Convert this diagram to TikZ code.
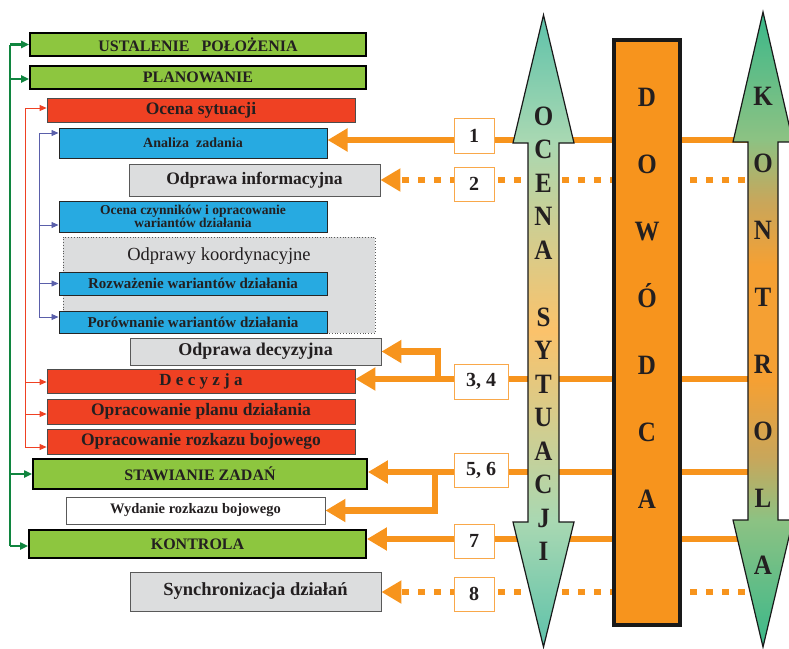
\documentclass[tikz,border=0pt]{standalone}
\usepackage{fontspec}
\setmainfont{Liberation Serif}
\usetikzlibrary{arrows.meta}
\definecolor{oorange}{HTML}{F7941D}
\definecolor{onum}{HTML}{F9A84A}
\definecolor{ogreen}{HTML}{8DC63F}
\definecolor{ored}{HTML}{EF4123}
\definecolor{oblue}{HTML}{27AAE1}
\definecolor{ogray}{HTML}{DCDDDE}
\definecolor{txt}{HTML}{231F20}
\definecolor{gline}{HTML}{10853F}
\definecolor{rline}{HTML}{EF4123}
\definecolor{bline}{HTML}{5A5FAA}
\definecolor{oca}{HTML}{5EC2AA}
\definecolor{ocb}{HTML}{A9D8B2}
\definecolor{occ}{HTML}{FBC26B}
\definecolor{ka}{HTML}{3BB88A}
\definecolor{kb}{HTML}{8CC283}
\definecolor{kc}{HTML}{C9A65A}
\definecolor{kd}{HTML}{F5A033}
\pgfdeclareverticalshading{ocenash}{100bp}{color(0bp)=(oca); color(25bp)=(oca); color(35bp)=(ocb); color(50bp)=(occ); color(65bp)=(ocb); color(75bp)=(oca); color(100bp)=(oca)}
\pgfdeclareverticalshading{kontrsh}{100bp}{color(0bp)=(ka); color(25bp)=(ka); color(35bp)=(kb); color(40bp)=(kc); color(46bp)=(kd); color(55bp)=(kd); color(60bp)=(kc); color(65bp)=(kb); color(75bp)=(ka); color(100bp)=(ka)}
\newcommand{\fs}[1]{\fontsize{#1}{#1}\selectfont}
\newcommand{\bigletter}[1]{\scalebox{1}[1.12]{#1}}
\begin{document}
\begin{tikzpicture}[x=1pt,y=-1pt,
  box/.style={inner sep=0pt, align=center, font=\bfseries, text=txt},
  gbox/.style={box, fill=ogreen, draw=black, line width=1.8pt},
  rbox/.style={box, fill=ored, draw=black!70, line width=0.8pt},
  bbox/.style={box, fill=oblue, draw=black!85, line width=1pt},
  gybox/.style={box, fill=ogray, draw=black!65, line width=0.9pt},
  numbox/.style={inner sep=0pt, fill=white, draw=onum, line width=0.9pt, text=txt, font=\fs{20}\bfseries},
  oline/.style={draw=oorange, line width=6.5pt},
  oarr/.style={oline, -{Triangle[length=20pt,width=22pt]}},
  odot/.style={oarr, dash pattern=on 7pt off 9pt},
  gconn/.style={draw=gline, line width=2.8pt},
  garr/.style={gconn, -{Triangle[length=8pt,width=7pt]}},
  rconn/.style={draw=rline, line width=0.8pt},
  rarr/.style={rconn, -{Triangle[length=7pt,width=6pt]}},
  bconn/.style={draw=bline, line width=0.8pt},
  barr/.style={bconn, -{Triangle[length=7pt,width=6pt]}},
  bigl/.style={inner sep=0pt, anchor=base, text=txt, font=\fs{25}\bfseries},
  arrowshape/.style={draw=black!90, line width=1.2pt}
]
\useasboundingbox (0,0) rectangle (789,648);

% ---------- left boxes ----------
\node[gbox, minimum width=336pt, minimum height=23pt, font=\fs{16}\bfseries] (ust) at (198,44.5) {USTALENIE\ \ \ POŁOŻENIA};
\node[gbox, minimum width=336pt, minimum height=23pt, font=\fs{16}\bfseries] (plan) at (198,77.5) {PLANOWANIE};
\node[rbox, minimum width=308pt, minimum height=24pt, font=\fs{17.5}\bfseries] (ocena) at (201,110) {Ocena sytuacji};
\node[bbox, minimum width=268pt, minimum height=30pt, font=\fs{14}\bfseries] (analiza) at (193,143) {Analiza\ \ zadania};
\node[gybox, minimum width=251pt, minimum height=32pt, font=\fs{17.5}\bfseries] (info) at (254.5,180) {Odprawa informacyjna};
\node[bbox, minimum width=268pt, minimum height=31pt, font=\fontsize{13.5}{13.5}\selectfont\bfseries, align=center] (czyn) at (193,216.5) {Ocena czynników i opracowanie\\wariantów działania};
\node[box, fill=ogray, draw=black!65, dotted, line width=0.8pt, minimum width=312pt, minimum height=96pt] (koord) at (219,285) {};
\node[inner sep=0pt, text=txt, font=\fs{18.5}, anchor=base] (koordt) at (219,260) {Odprawy koordynacyjne};
\node[bbox, minimum width=268pt, minimum height=23pt, font=\fs{15}\bfseries] (rozw) at (193,283.5) {Rozważenie wariantów działania};
\node[bbox, minimum width=268pt, minimum height=22pt, font=\fs{15}\bfseries] (por) at (193,322) {Porównanie wariantów działania};
\node[gybox, minimum width=251pt, minimum height=27pt, font=\fs{18}\bfseries] (decyz) at (255.5,351.5) {Odprawa decyzyjna};
\node[rbox, minimum width=308pt, minimum height=24pt, font=\fs{17}\bfseries] (decyzja) at (201,381) {D e c y z j a};
\node[rbox, minimum width=308pt, minimum height=25pt, font=\fs{17.5}\bfseries] (plan2) at (201,411.5) {Opracowanie planu działania};
\node[rbox, minimum width=308pt, minimum height=25pt, font=\fs{17.5}\bfseries] (rozkaz) at (201,441.5) {Opracowanie rozkazu bojowego};
\node[gbox, minimum width=334pt, minimum height=30pt, font=\fs{16}\bfseries] (staw) at (200,474) {STAWIANIE ZADAŃ};
\node[box, fill=white, draw=black!65, line width=0.9pt, minimum width=259pt, minimum height=27pt, font=\fs{14.5}\bfseries] (wyd) at (195.5,510.5) {Wydanie rozkazu bojowego};
\node[gbox, minimum width=337pt, minimum height=28pt, font=\fs{16}\bfseries] (kontr) at (197.5,544) {KONTROLA};
\node[gybox, minimum width=251pt, minimum height=39pt, font=\fs{18.5}\bfseries] (sync) at (255.5,591.5) {Synchronizacja działań};

% ---------- left connectors ----------
\coordinate (gx) at (10,0);
\coordinate (rx) at (25,0);
\coordinate (bx) at (39,0);
\draw[gconn] (gx |- ust.west) -- ([yshift=-2pt]gx |- kontr.west);
\draw[garr] (gx |- ust.west) -- (ust.west);
\draw[garr] ([yshift=-1.5pt]gx |- plan.west) -- ([yshift=-1.5pt]plan.west);
\draw[garr] (gx |- staw.west) -- (staw.west);
\draw[garr] ([yshift=-2pt]gx |- kontr.west) -- ([yshift=-2pt]kontr.west);

\draw[rconn] ([yshift=2pt]rx |- ocena.west) -- ([yshift=-5.5pt]rx |- rozkaz.west);
\draw[rarr] ([yshift=2pt]rx |- ocena.west) -- ([yshift=2pt]ocena.west);
\draw[rarr] ([yshift=-1pt]rx |- decyzja.west) -- ([yshift=-1pt]decyzja.west);
\draw[rarr] ([yshift=-2.5pt]rx |- plan2.west) -- ([yshift=-2.5pt]plan2.west);
\draw[rarr] ([yshift=-5.5pt]rx |- rozkaz.west) -- ([yshift=-5.5pt]rozkaz.west);

\draw[bconn] ([yshift=10pt]bx |- analiza.west) -- ([yshift=5pt]bx |- por.west);
\draw[barr] ([yshift=10pt]bx |- analiza.west) -- ([yshift=10pt]analiza.west);
\draw[barr] ([yshift=-8.5pt]bx |- czyn.west) -- ([yshift=-8.5pt]czyn.west);
\draw[barr] (bx |- rozw.west) -- (rozw.west);
\draw[barr] ([yshift=5pt]bx |- por.west) -- ([yshift=5pt]por.west);

% ---------- orange connectors ----------
\coordinate (r1) at (750,140);
\coordinate (r2) at (745,180);
\coordinate (r34) at (750,379);
\coordinate (b34) at (438,379);
\coordinate (r56) at (750,472);
\coordinate (b56) at (435,472);
\coordinate (r7) at (750,539);
\coordinate (r8) at (745,592);
\draw[oarr] (r1) -- (r1 -| analiza.east);
\draw[odot] (r2) -- (r2 -| info.east);
\draw[oarr] (r34) -- (r34 -| decyzja.east);
\draw[oarr] (b34) |- (decyz.east);
\draw[oarr] (r56) -- (r56 -| staw.east);
\draw[oarr] (b56) |- (wyd.east);
\draw[oarr] (r7) -- (r7 -| kontr.east);
\draw[odot] (r8) -- (r8 -| sync.east);

\node[numbox, minimum width=40pt, minimum height=35pt] (n1) at (474,135.5) {1};
\node[numbox, minimum width=40pt, minimum height=34pt] (n2) at (474,184) {2};
\node[numbox, minimum width=54pt, minimum height=35pt] (n34) at (481,381.5) {3, 4};
\node[numbox, minimum width=54pt, minimum height=34pt] (n56) at (481,470) {5, 6};
\node[numbox, minimum width=40pt, minimum height=34pt] (n7) at (474,541) {7};
\node[numbox, minimum width=40pt, minimum height=34pt] (n8) at (474,594) {8};

% ---------- vertical arrows ----------
\path[arrowshape, shading=ocenash] (543.5,15) -- (574,143) -- (559,143) -- (559,522) -- (574,522) -- (543.5,647) -- (513,522) -- (528,522) -- (528,143) -- (513,143) -- cycle;
\path[arrowshape, shading=kontrsh] (763,12) -- (793,142) -- (778,142) -- (778,520) -- (793,520) -- (763,647) -- (733,520) -- (748,520) -- (748,142) -- (733,142) -- cycle;
\node[draw=black!90, line width=4pt, fill=oorange, minimum width=66pt, minimum height=585pt, inner sep=0pt] (dow) at (647,332.5) {};

\foreach \l/\k in {O/0,C/1,E/2,N/3,A/4,S/6,Y/7,T/8,U/9,A/10,C/11,J/12,I/13}
  \node[bigl] at (543.5,{125+33.5*\k}) {\bigletter{\l}};
\foreach \l/\k in {D/0,O/1,W/2,Ó/3,D/4,C/5,A/6}
  \node[bigl] at (647,{106+67*\k}) {\bigletter{\l}};
\foreach \l/\k in {K/0,O/1,N/2,T/3,R/4,O/5,L/6,A/7}
  \node[bigl] at (763,{105+67*\k}) {\bigletter{\l}};
\end{tikzpicture}
\end{document}
